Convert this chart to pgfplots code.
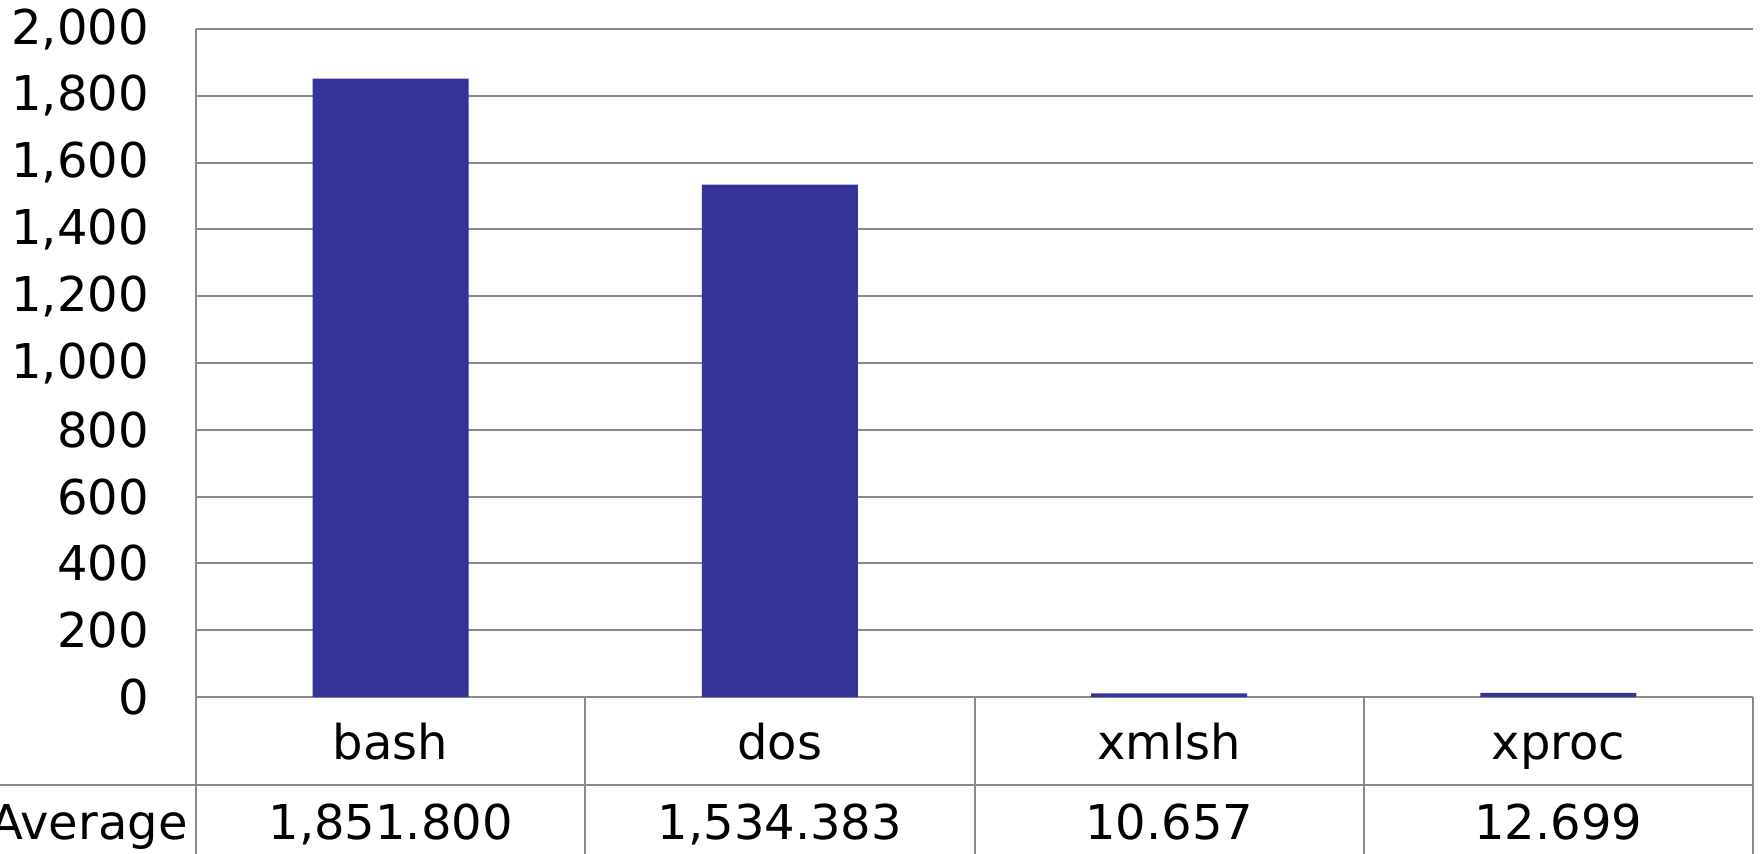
\documentclass[border=0pt]{standalone}
\usepackage{fontspec}
\setmainfont{DejaVu Sans}
\usepackage{pgfplots}
\usepackage{pgfplotstable}
\pgfplotsset{compat=1.18}

\definecolor{barblue}{HTML}{333399}
\definecolor{rulegray}{HTML}{8A8A8A}

% average run time per shell
\pgfplotstableread{
pos name  value     label
0   bash  1851.800  1,851.800
1   dos   1534.383  1,534.383
2   xmlsh 10.657    10.657
3   xproc 12.699    12.699
}\timings

\begin{document}
\begin{tikzpicture}[font=\fontsize{24}{28}\selectfont]
\begin{axis}[
  at={(98pt,-14.5pt)}, anchor=north west,
  scale only axis, width=778.5pt, height=334pt,
  xmin=-0.5, xmax=3.5, ymin=0, ymax=2000,
  ytick={0,200,...,2000},
  xtick={0,1,2,3}, xticklabels={bash,dos,xmlsh,xproc},
  major tick length=0pt,
  axis x line*=bottom, axis y line*=left,
  axis line style={draw=rulegray, line width=1pt, -},
  ymajorgrids, grid style={draw=rulegray, line width=1pt},
  yticklabel style={anchor=east, inner sep=0pt, xshift=-23.4pt},
  xticklabel style={anchor=base, inner sep=0pt, yshift=-31pt},
  clip=false,
  /pgf/number format/1000 sep={,},
  /pgf/number format/assume math mode=true,
]
\addplot[ybar, bar width=78pt, fill=barblue, draw=none]
  table[x=pos, y=value] {\timings};
% data row of the table under the chart
\addplot[draw=none, mark=none,
  point meta=explicit symbolic,
  nodes near coords={\pgfplotspointmeta},
  nodes near coords style={anchor=base, inner sep=0pt, yshift=-71pt}]
  table[x=pos, y expr=0, meta=label] {\timings};
\end{axis}

% table rules
\draw[rulegray, line width=1pt] (0pt,-392.5pt) -- (876.5pt,-392.5pt);
\foreach \xx in {98, 292.625, 487.25, 681.875, 876.5}
  \draw[rulegray, line width=1pt] (\xx pt,-348.5pt) -- (\xx pt,-440pt);
\node[anchor=base east, inner sep=0pt] at (94pt,-419.5pt) {Average};

\pgfresetboundingbox
\useasboundingbox (0,0) rectangle (880.5pt,-426.5pt);
\end{tikzpicture}
\end{document}
